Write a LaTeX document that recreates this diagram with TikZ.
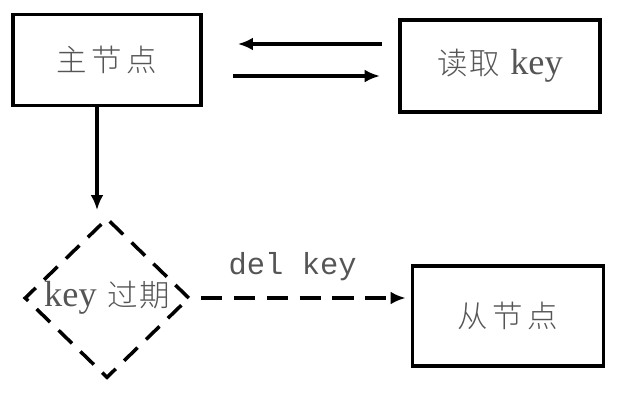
\documentclass[tikz,border=0pt]{standalone}
\usepackage{fontspec}
\setmainfont{Liberation Serif}
\newfontfamily\cjk{Noto Sans CJK SC Light}
\newfontfamily\codefont{Liberation Mono}
\usetikzlibrary{shapes.geometric, arrows.meta}

\definecolor{inkgray}{HTML}{555555}
\newcommand{\kw}{{\fontsize{31}{34}\selectfont key}}
\tikzset{
    box/.style={draw, line width=3pt, minimum width=5.7cm, minimum height=2.8cm,
        text=inkgray, font=\fontsize{26}{30}\selectfont},
    decide/.style={diamond, draw, line width=3pt, dash pattern=on 16pt off 10pt,
        inner sep=0pt, minimum width=4.95cm, minimum height=4.8cm,
        text=inkgray, font=\fontsize{26}{30}\selectfont},
    flow/.style={line width=3pt, -{Latex[length=13pt,width=11pt]}}
}

\begin{document}
\begin{tikzpicture}[x=0.03cm, y=-0.03cm]
    \useasboundingbox (0,0) rectangle (618,406);
    \node[box, minimum width=5.64cm, minimum height=2.73cm] (master) at (107,60) {\cjk 主\hspace{0.15em}节\hspace{0.15em}点};
    \node[box, minimum width=6cm, minimum height=2.76cm] (read) at (500,66) {{\cjk 读\hspace{0.05em}取}\hspace{0.1em} \kw};
    \node[decide] (expire) at (107,298) {\kw\hspace{0.1em} {\cjk 过\hspace{0.05em}期}};
    \node[box, minimum width=5.73cm, minimum height=3cm] (slave) at (508,316) {\cjk 从\hspace{0.15em}节\hspace{0.15em}点};
    % read and write between master and client
    \draw[flow, shorten <=0.5cm, shorten >=1.05cm] ([yshift=0.66cm]read.west) -- ([yshift=0.66cm]read.west -| master.east);
    \draw[flow, shorten <=0.9cm, shorten >=0.55cm] ([yshift=-0.48cm]master.east) -- ([yshift=-0.48cm]master.east -| read.west);
    \draw[flow, shorten >=0.18cm] ([xshift=-0.3cm]master.south) -- ([xshift=-0.3cm]master.south |- expire.north);
    % expiry sent on to the slave
    \draw[flow, dash pattern=on 18pt off 10pt, shorten <=0.3cm, shorten >=0.15cm] (expire.east) -- (expire.east -| slave.west)
        node[midway, above=0.35cm, xshift=-0.25cm, text=inkgray, font=\codefont\fontsize{26}{30}\selectfont] (cmd) {del key};
\end{tikzpicture}
\end{document}
